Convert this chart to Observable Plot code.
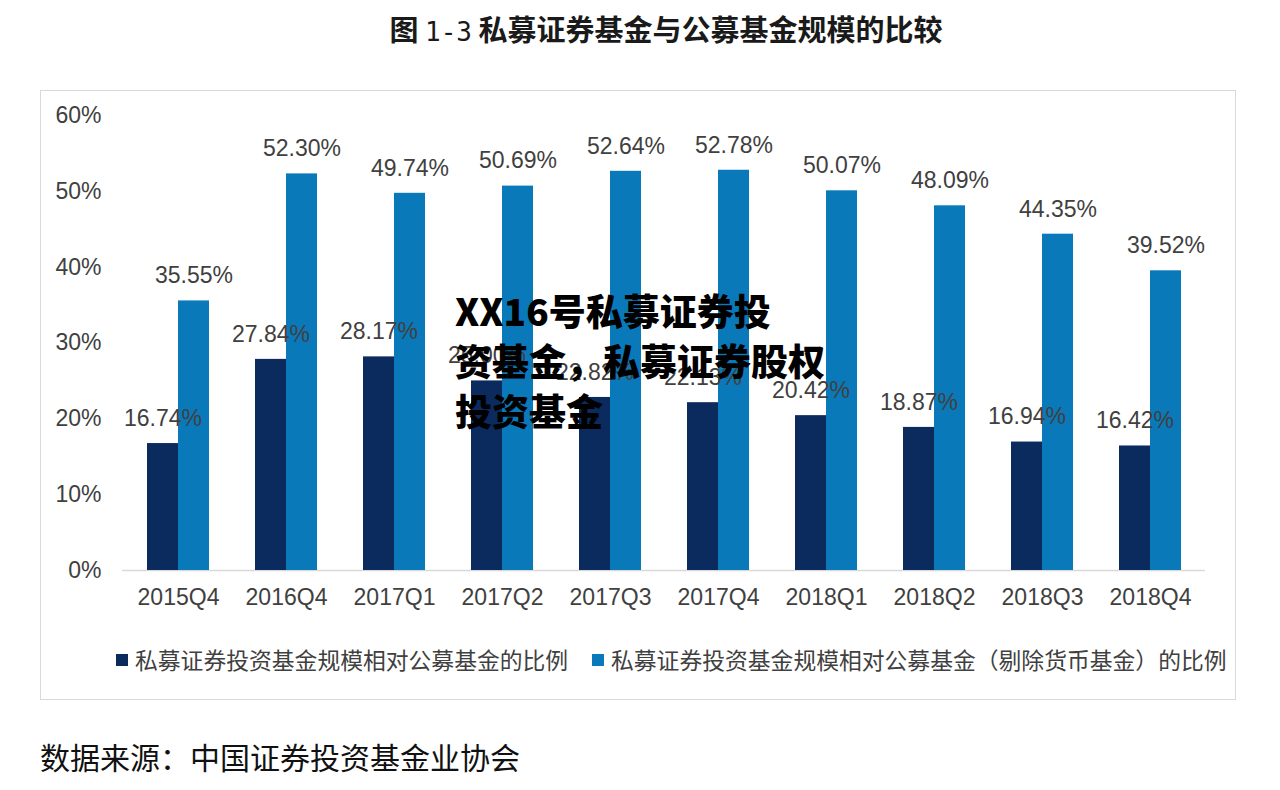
<!DOCTYPE html>
<html>
<head>
<meta charset="utf-8">
<script src="https://cdn.jsdelivr.net/npm/d3@7"></script>
<script src="https://cdn.jsdelivr.net/npm/@observablehq/plot@0.6"></script>
<style>
  html, body { margin: 0; padding: 0; background: #fff; }
  body { width: 1280px; height: 790px; position: relative; overflow: hidden;
         font-family: "Liberation Sans", Arial, "Noto Sans CJK SC", sans-serif; }
  #title { position: absolute; left: 26px; width: 1280px; top: 8px; text-align: center;
           font-family: "Noto Sans CJK SC", sans-serif; font-size: 29px; font-weight: 600; color: #1a1a1a; line-height: 40px; white-space: pre; }
  #title .num { font-family: "DejaVu Sans Mono", monospace; font-weight: 400; font-size: 26px; }
  #frame { position: absolute; left: 40px; top: 90px; width: 1194px; height: 608px; border: 1.5px solid #d9d9d9; }
  #chart { position: absolute; left: 0; top: 90px; }
  #legend { position: absolute; top: 645px; left: 0; height: 30px; font-family: "Noto Sans CJK SC", sans-serif;
            font-size: 22.8px; color: #404040; line-height: 30px; white-space: nowrap; }
  .lg { position: absolute; top: 0; display: flex; align-items: center; }
  .sw { width: 12px; height: 12px; display: inline-block; margin-right: 7px; }
  #source { position: absolute; left: 40px; top: 735px; font-family: "Noto Sans CJK SC", sans-serif;
            font-size: 30px; color: #111; line-height: 42px; white-space: nowrap; }
  #wm { position: absolute; left: 455px; top: 285px; font-family: "Noto Sans CJK SC", sans-serif;
        font-size: 37px; font-weight: 900; color: #000; line-height: 50px; white-space: nowrap; }
</style>
</head>
<body>
<div id="title">图 <span class="num">1-3</span> 私募证券基金与公募基金规模的比较</div>
<div id="frame"></div>
<div id="chart"></div>
<div id="legend"></div>
<div id="source">数据来源：中国证券投资基金业协会</div>
<div id="wm">XX16号私募证券投<br>资基金，私募证券股权<br>投资基金</div>
<script>
const quarters = ["2015Q4","2016Q4","2017Q1","2017Q2","2017Q3","2017Q4","2018Q1","2018Q2","2018Q3","2018Q4"];
const ratioAll = [16.74, 27.84, 28.17, 25.00, 22.82, 22.13, 20.42, 18.87, 16.94, 16.42];
const ratioExMoney = [35.55, 52.30, 49.74, 50.69, 52.64, 52.78, 50.07, 48.09, 44.35, 39.52];
const seriesNames = ["私募证券投资基金规模相对公募基金的比例", "私募证券投资基金规模相对公募基金（剔除货币基金）的比例"];
const colors = ["#0b2a5e", "#0a79ba"];
const yTicks = [0, 10, 20, 30, 40, 50, 60];

const dark = quarters.map((q, i) => ({q, v: ratioAll[i]}));
const light = quarters.map((q, i) => ({q, v: ratioExMoney[i]}));
const fmt = v => v.toFixed(2) + "%";
const half = 62 / 4;

const chart = Plot.plot({
  width: 1280,
  height: 520,
  marginLeft: 122,
  marginRight: 75,
  marginTop: 25,
  marginBottom: 40,
  style: {fontFamily: "'Liberation Sans', Arial, sans-serif", fontSize: "23px", color: "#404040", background: "transparent"},
  x: {domain: quarters, paddingInner: 0.4274, paddingOuter: 0.2137, label: null},
  y: {domain: [0, 60], ticks: yTicks, label: null},
  marks: [
    Plot.ruleY([0], {stroke: "#d9d9d9", strokeWidth: 1.5}),
    Plot.barY(dark, {x: "q", y: "v", fill: colors[0], insetRight: 31}),
    Plot.barY(light, {x: "q", y: "v", fill: colors[1], insetLeft: 31}),
    Plot.text(dark, {x: "q", y: "v", text: d => fmt(d.v), dx: -half, dy: -25, fill: "#404040", fontSize: 23}),
    Plot.text(light, {x: "q", y: "v", text: d => fmt(d.v), dx: half, dy: -25, fill: "#404040", fontSize: 23}),
    Plot.axisX({tickSize: 0, tickPadding: 18, fontSize: 23, fill: "#404040"}),
    Plot.axisY({ticks: yTicks, tickSize: 0, tickPadding: 21, tickFormat: d => d + "%", fontSize: 23, fill: "#404040"})
  ]
});
document.getElementById("chart").appendChild(chart);

const legend = document.getElementById("legend");
const lgX = [116, 592];
seriesNames.forEach((n, i) => {
  const item = document.createElement("div");
  item.className = "lg";
  item.style.left = lgX[i] + "px";
  item.innerHTML = `<span class="sw" style="background:${colors[i]}"></span><span>${n}</span>`;
  legend.appendChild(item);
});
</script>
</body>
</html>
